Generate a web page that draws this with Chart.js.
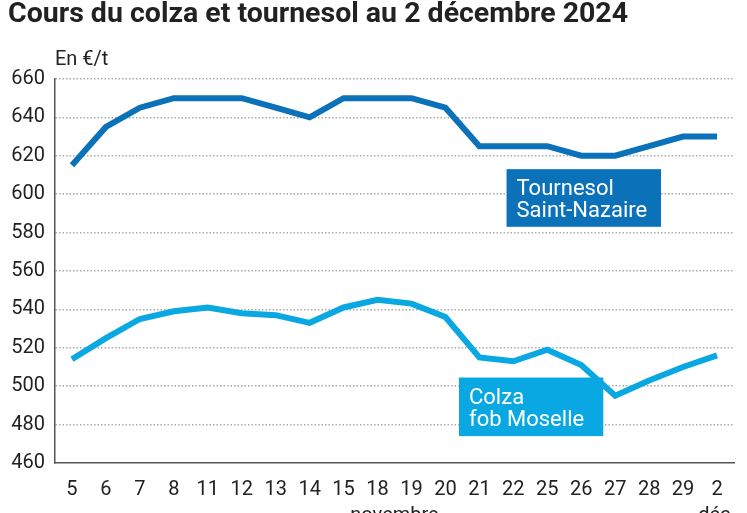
<!DOCTYPE html>
<html lang="fr">
<head>
<meta charset="utf-8" />
<title>Cours du colza et tournesol</title>
<script src="https://cdn.jsdelivr.net/npm/chart.js@4.4.1/dist/chart.umd.min.js"></script>
<style>
  html, body { margin: 0; padding: 0; background: #fff; }
  #wrap { width: 747px; height: 513px; }
</style>
</head>
<body>
<div id="wrap"><canvas id="myChart"></canvas></div>
<script>
// data
var days = ["5", "6", "7", "8", "11", "12", "13", "14", "15", "18", "19", "20", "21", "22", "25", "26", "27", "28", "29", "2"];
var tournesol = [615, 635, 645, 650, 650, 650, 645, 640, 650, 650, 650, 645, 625, 625, 625, 620, 620, 625, 630, 630];
var colza = [514, 525, 535, 539, 541, 538, 537, 533, 541, 545, 543, 536, 515, 513, 519, 511, 495, 503, 510, 516];
var yMin = 460, yMax = 660, yStep = 20;

var dark = "#222";
var condensed = "'Liberation Sans Narrow', Roboto, sans-serif";
var blueDark = "#0b72b9";
var blueLight = "#0aa8e2";

// boxes with the series names, in data units
var tags = [
  { lines: ["Tournesol", "Saint-Nazaire"], color: blueDark, x0: 12.8, x1: 17.35, y0: 613, y1: 583 },
  { lines: ["Colza", "fob Moselle"], color: blueLight, x0: 11.4, x1: 15.65, y0: 504.5, y1: 474 }
];

var extras = {
  id: "extras",
  afterDraw: function (chart) {
    var ctx = chart.ctx;
    var xs = chart.scales.x, ys = chart.scales.y;
    ctx.save();
    ctx.fillStyle = dark;
    ctx.font = "20px " + condensed;
    ctx.textBaseline = "alphabetic";
    ctx.textAlign = "left";
    ctx.fillText("En €/t", chart.chartArea.left, 65);

    ctx.textAlign = "center";
    ctx.font = "20px " + condensed;
    ctx.fillText("novembre", (xs.getPixelForValue(9) + xs.getPixelForValue(10)) / 2, 521);
    ctx.fillText("déc.", xs.getPixelForValue(19), 521);

    tags.forEach(function (t) {
      var l = xs.getPixelForValue(t.x0), r = xs.getPixelForValue(t.x1);
      var top = ys.getPixelForValue(t.y0), bot = ys.getPixelForValue(t.y1);
      ctx.fillStyle = t.color;
      ctx.fillRect(l, top, r - l, bot - top);
      ctx.fillStyle = "#fff";
      ctx.textAlign = "left";
      ctx.font = "22px Roboto, sans-serif";
      ctx.fillText(t.lines[0], l + 10, top + 26);
      ctx.fillText(t.lines[1], l + 10, top + 48);
    });
    ctx.restore();
  }
};

var ctx = document.getElementById("myChart").getContext("2d");
var myChart = new Chart(ctx, {
  type: "line",
  data: {
    labels: days,
    datasets: [
      {
        label: "Tournesol Saint-Nazaire",
        data: tournesol,
        borderColor: blueDark,
        borderWidth: 6,
        pointRadius: 0,
        tension: 0,
        borderCapStyle: "butt",
        borderJoinStyle: "miter"
      },
      {
        label: "Colza fob Moselle",
        data: colza,
        borderColor: blueLight,
        borderWidth: 6,
        pointRadius: 0,
        tension: 0,
        borderCapStyle: "butt",
        borderJoinStyle: "miter"
      }
    ]
  },
  options: {
    responsive: true,
    maintainAspectRatio: false,
    animation: false,
    layout: { padding: { left: 8, right: 13, top: 0, bottom: 0 } },
    plugins: {
      legend: { display: false },
      tooltip: { enabled: false },
      title: {
        display: true,
        text: "Cours du colza et tournesol au 2 décembre 2024",
        align: "start",
        color: dark,
        font: { family: condensed, size: 28.5, weight: "bold", lineHeight: 1.05 },
        padding: { top: 0, bottom: 49 }
      }
    },
    scales: {
      x: {
        offset: true,
        grid: { display: false, drawTicks: false },
        border: { display: true, color: "#555", width: 1.5 },
        ticks: { color: dark, font: { family: condensed, size: 20 }, padding: 15, maxRotation: 0, autoSkip: false },
        afterFit: function (s) { s.height = 50; }
      },
      y: {
        min: yMin,
        max: yMax,
        ticks: { stepSize: yStep, color: dark, font: { family: condensed, size: 20 }, padding: 10 },
        grid: {
          drawTicks: false,
          lineWidth: 1.5,
          color: function (c) { return c.tick && c.tick.value === yMin ? "rgba(0,0,0,0)" : "#aaa"; }
        },
        // in v4 border.dash dashes the grid lines (dotted look)
        border: { display: true, color: "#555", width: 1.5, dash: [1.5, 2] },
        afterFit: function (s) { s.width = 47; }
      }
    }
  },
  plugins: [extras]
});
</script>
</body>
</html>
